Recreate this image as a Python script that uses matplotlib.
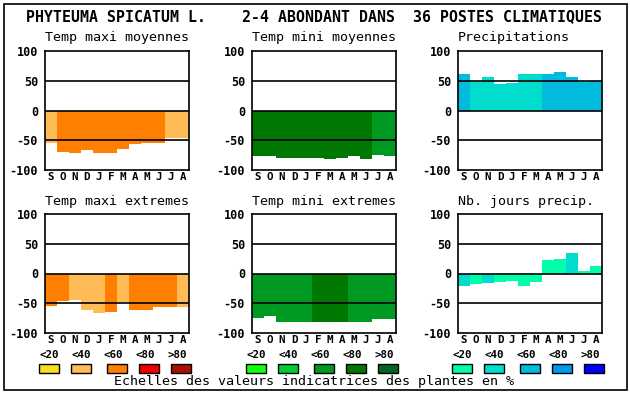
"""
Recreation of the Phyteuma spicatum climate indicator chart (6 small bar panels).
"""

import numpy as np
import matplotlib
matplotlib.use("Agg")
import matplotlib.pyplot as plt
from matplotlib.patches import Rectangle

W, H = 630, 394
MONO = "DejaVu Sans Mono"

months = ["S", "O", "N", "D", "J", "F", "M", "A", "M", "J", "J", "A"]
class_labels = ["<20", "<40", "<60", "<80", ">80"]

# colour scales (5 classes each)
reds   = ["#f7e11b", "#ffbb55", "#ff8000", "#ee0000", "#aa1100"]
greens = ["#11ff11", "#00cc33", "#009922", "#007700", "#006622"]
blues  = ["#00ffaa", "#00ddcc", "#00bbdd", "#0099ee", "#0000ff"]

# values per month + class index (0..4) per month
tmax_moy     = [-54, -70, -72, -67, -72, -72, -65, -57, -54, -55, -46, -47]
tmax_moy_cls = [1, 2, 2, 2, 2, 2, 2, 2, 2, 2, 1, 1]

tmin_moy     = [-77, -77, -80, -80, -80, -80, -82, -80, -77, -82, -75, -77]
tmin_moy_cls = [3, 3, 3, 3, 3, 3, 3, 3, 3, 3, 2, 2]

precip       = [61, 48, 56, 44, 46, 62, 62, 62, 64, 57, 48, 49]
precip_cls   = [2, 1, 1, 1, 1, 1, 1, 2, 2, 2, 2, 2]

tmax_ext     = [-54, -46, -44, -61, -67, -64, -48, -62, -62, -56, -56, -56]
tmax_ext_cls = [2, 2, 1, 1, 1, 2, 1, 2, 2, 2, 2, 1]

tmin_ext     = [-74, -72, -81, -82, -81, -81, -81, -81, -82, -81, -77, -76]
tmin_ext_cls = [2, 2, 2, 2, 2, 3, 3, 3, 2, 2, 2, 2]

jours        = [-21, -17, -16, -14, -12, -21, -14, 23, 24, 34, 4, 12]
jours_cls    = [1, 0, 1, 0, 0, 0, 0, 0, 0, 1, 0, 0]

panels = [
    # (title, values, classes, palette, left px, top px)
    ("Temp maxi moyennes", tmax_moy, tmax_moy_cls, reds,   45, 51),
    ("Temp mini moyennes", tmin_moy, tmin_moy_cls, greens, 252, 51),
    ("Precipitations",     precip,   precip_cls,   blues,  458, 51),
    ("Temp maxi extremes", tmax_ext, tmax_ext_cls, reds,   45, 214),
    ("Temp mini extremes", tmin_ext, tmin_ext_cls, greens, 252, 214),
    ("Nb. jours precip.",  jours,    jours_cls,    blues,  458, 214),
]
AX_W, AX_H = 144, 119


def px_rect(x, y, w, h):
    """pixel box (top-left origin) -> figure fraction rect"""
    return [x / W, 1 - (y + h) / H, w / W, h / H]


fig = plt.figure(figsize=(W / 100, H / 100), dpi=100)
fig.patch.set_facecolor("white")

# outer frame
fig.add_artist(Rectangle((4 / W, 1 - 390 / H), 623 / W, 386 / H,
                         transform=fig.transFigure, fill=False,
                         edgecolor="black", linewidth=1.2))

fig.text(26 / W, 1 - 17 / H,
         "PHYTEUMA SPICATUM L.    2-4 ABONDANT DANS  36 POSTES CLIMATIQUES",
         family=MONO, fontsize=10.7, fontweight="bold", ha="left", va="center")

for title, vals, cls, pal, left, top in panels:
    ax = fig.add_axes(px_rect(left, top, AX_W, AX_H))
    x = np.arange(len(vals))
    ax.bar(x, vals, width=1.0, color=[pal[c] for c in cls], linewidth=0, zorder=1)
    for yy in (50, 0, -50):
        ax.axhline(yy, color="black", linewidth=1.2, zorder=2)
    ax.set_xlim(-0.5, 11.5)
    ax.set_ylim(-100, 100)
    ax.set_yticks([-100, -50, 0, 50, 100])
    ax.set_yticklabels(["-100", "-50", "0", "50", "100"],
                       family=MONO, fontweight="bold", fontsize=8.5)
    ax.set_xticks(x)
    ax.set_xticklabels(months, family=MONO, fontweight="bold", fontsize=7.8)
    ax.tick_params(axis="x", length=0, pad=1.5)
    ax.tick_params(axis="y", length=0, pad=5)
    for sp in ax.spines.values():
        sp.set_linewidth(1.2)
        sp.set_zorder(3)
    fig.text(left / W, 1 - (top - 13) / H, title, family=MONO, fontsize=9.6,
             ha="left", va="center")

    # class legend under the bottom row
    if top > 100:
        for i, lab in enumerate(class_labels):
            lx = left + [-6, 26, 58, 90, 122][i] + 10
            fig.text(lx / W, 1 - 355 / H, lab, family=MONO, fontweight="bold",
                     fontsize=7.8, ha="center", va="center")
            bx = left + [-6, 26, 62, 94, 126][i]
            fig.add_artist(Rectangle((bx / W, 1 - 373 / H), 20 / W, 9 / H,
                                     transform=fig.transFigure,
                                     facecolor=pal[i], edgecolor="black",
                                     linewidth=1.0))

fig.text(314.5 / W, 1 - 382 / H,
         "Echelles des valeurs indicatrices des plantes en %",
         family=MONO, fontsize=9.6, ha="center", va="center")

fig.savefig("out.png", dpi=100)
